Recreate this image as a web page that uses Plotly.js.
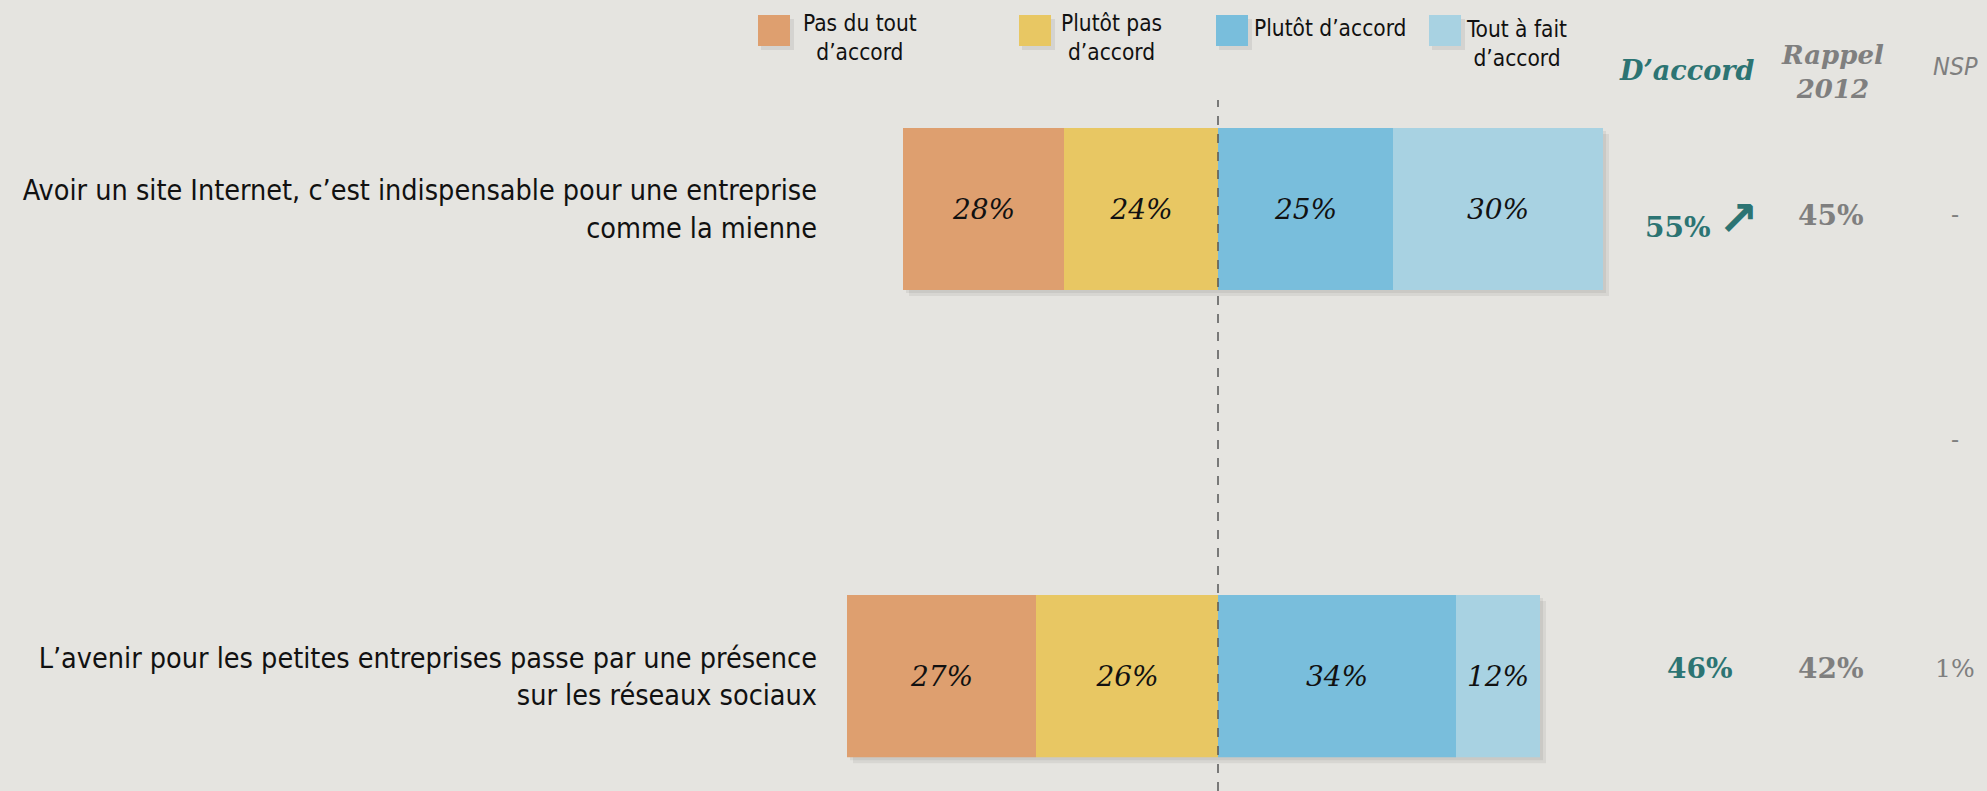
<!DOCTYPE html>
<html>
<head>
<meta charset="utf-8">
<script src="https://cdn.plot.ly/plotly-3.0.1.min.js"></script>
<style>
  html, body { margin: 0; padding: 0; background: #e5e4e0; }
  #myDiv { width: 1987px; height: 791px; }
</style>
</head>
<body>
<div id="myDiv"></div>
<script>
// statements, top one first
var statements = [
  'Avoir un site Internet, c’est indispensable pour une entreprise<br>comme la mienne',
  'L’avenir pour les petites entreprises passe par une présence<br>sur les réseaux sociaux'
];
var seriesNames = ['Pas du tout<br>d’accord', 'Plutôt pas<br>d’accord', 'Plutôt d’accord', 'Tout à fait<br>d’accord'];
var colors = ['#de9f6f', '#e8c763', '#79bedc', '#a8d2e2'];

// bar lengths as drawn in the picture (first row's left side is drawn shorter than its labels)
var pasDuTout = [23, 27];
var plutotPas = [22, 26];
var plutotDaccord = [25, 34];
var toutAFait = [30, 12];
// labels printed in the bars
var pasDuToutLbl = ['28%', '27%'];
var plutotPasLbl = ['24%', '26%'];
var plutotDaccordLbl = ['25%', '34%'];
var toutAFaitLbl = ['30%', '12%'];

// right hand columns
var daccord = ['55%', '46%'];
var rappel2012 = ['45%', '42%'];
var nsp = ['-', '1%'];

var W = 1987, H = 791, L = 820;
var pxPerPt = 7, zeroPx = 1218;
function px2x(px) { return (px - zeroPx) / pxPerPt; }
function px2paper(px) { return (px - L) / (W - L); }
function py2paper(py) { return 1 - py / H; }

var barFont = { family: 'DejaVu Serif', size: 28, color: '#111', style: 'italic' };

function barTrace(vals, lbls, idx, neg) {
  return {
    type: 'bar', orientation: 'h',
    y: statements,
    x: vals.map(function (v) { return neg ? -v : v; }),
    text: lbls,
    textposition: 'inside', insidetextanchor: 'middle', constraintext: 'none',
    textfont: barFont,
    marker: { color: colors[idx], line: { width: 0 } },
    width: 0.347,
    hoverinfo: 'skip',
    showlegend: false
  };
}

var data = [
  barTrace(plutotPas, plutotPasLbl, 1, true),
  barTrace(pasDuTout, pasDuToutLbl, 0, true),
  barTrace(plutotDaccord, plutotDaccordLbl, 2, false),
  barTrace(toutAFait, toutAFaitLbl, 3, false)
];

var shapes = [];
var annotations = [];

// soft shadows behind the bars
statements.forEach(function (s, i) {
  var cat = statements.length - 1 - i;
  var left = -(pasDuTout[i] + plutotPas[i]);
  var right = plutotDaccord[i] + toutAFait[i];
  [6, 3].forEach(function (off) {
    shapes.push({
      type: 'rect', layer: 'below', xref: 'x', yref: 'y',
      x0: left + off / pxPerPt, x1: right + off / pxPerPt,
      y0: cat - 0.1735 - off / 467, y1: cat + 0.1735 - off / 467,
      fillcolor: 'rgba(0,0,0,0.06)', line: { width: 0 }
    });
  });
});

// dashed zero line
shapes.push({
  type: 'line', xref: 'x', yref: 'paper', x0: 0, x1: 0, y0: 0, y1: py2paper(100),
  line: { color: '#555', width: 1.5, dash: 'dash' }
});

// legend drawn by hand
var legendPos = [
  { sq: 758, tx: 860, ty: 38 },
  { sq: 1019, tx: 1111, ty: 38 },
  { sq: 1216, tx: 1330, ty: 28 },
  { sq: 1429, tx: 1516, ty: 44 }
];
seriesNames.forEach(function (n, i) {
  var p = legendPos[i];
  shapes.push({
    type: 'rect', xref: 'paper', yref: 'paper',
    x0: px2paper(p.sq + 3), x1: px2paper(p.sq + 36), y0: py2paper(50), y1: py2paper(19),
    fillcolor: 'rgba(0,0,0,0.07)', line: { width: 0 }
  });
  shapes.push({
    type: 'rect', xref: 'paper', yref: 'paper',
    x0: px2paper(p.sq), x1: px2paper(p.sq + 32), y0: py2paper(46), y1: py2paper(15),
    fillcolor: colors[i], line: { width: 0 }
  });
  annotations.push({
    xref: 'paper', yref: 'paper', x: px2paper(p.tx), y: py2paper(p.ty),
    text: n, showarrow: false, xanchor: 'center', yanchor: 'middle', align: 'center',
    font: { family: 'DejaVu Sans Condensed', size: 22.5, color: '#111' }
  });
});

// column headers
var teal = '#2c7473', grey = '#7f7f7f';
var headFont = { family: 'DejaVu Serif', size: 27, weight: 'bold', style: 'italic' };
function note(x, y, text, font, extra) {
  return Object.assign({
    xref: 'x', yref: 'paper', x: x, y: y, text: text, showarrow: false,
    xanchor: 'center', yanchor: 'middle', align: 'center', font: font
  }, extra || {});
}
annotations.push(note(px2x(1686), py2paper(70), 'D’accord', Object.assign({}, headFont, { color: teal })));
annotations.push(note(px2x(1832), py2paper(72), 'Rappel<br>2012', Object.assign({}, headFont, { color: grey, size: 26 })));
annotations.push(note(px2x(1955), py2paper(67), 'NSP',
  { family: 'DejaVu Sans Condensed', size: 25, color: grey, style: 'italic' }));

// column values
var valFont = { family: 'DejaVu Serif', size: 28, weight: 'bold' };
var dashFont = { family: 'DejaVu Serif', size: 24, color: grey };
statements.forEach(function (s, i) {
  var cat = statements.length - 1 - i;
  annotations.push(note(px2x(i === 0 ? 1678 : 1700), cat, daccord[i],
    Object.assign({}, valFont, { color: teal }), { yref: 'y', yshift: i === 0 ? -18 : 8 }));
  annotations.push(note(px2x(1831), cat, rappel2012[i],
    Object.assign({}, valFont, { color: grey }), { yref: 'y', yshift: i === 0 ? -6 : 8 }));
  annotations.push(note(px2x(1955), cat, nsp[i],
    i === 0 ? dashFont : { family: 'DejaVu Serif', size: 25, color: grey }, { yref: 'y', yshift: i === 0 ? -6 : 8 }));
});
// trend arrow next to the first D'accord value
annotations.push(note(px2x(1738), 1, '↗',
  { family: 'DejaVu Sans', size: 48, weight: 'bold', color: teal }, { yref: 'y', yshift: -9 }));
// stray dash between the rows in the NSP column
annotations.push(note(px2x(1955), py2paper(440), '-', dashFont));

var layout = {
  width: W, height: H,
  margin: { l: L, r: 0, t: 0, b: 0 },
  paper_bgcolor: '#e5e4e0',
  plot_bgcolor: '#e5e4e0',
  barmode: 'relative',
  showlegend: false,
  xaxis: {
    range: [px2x(L), px2x(W)],
    showgrid: false, zeroline: false, showticklabels: false, ticks: '', fixedrange: true
  },
  yaxis: {
    type: 'category',
    categoryorder: 'array', categoryarray: statements.slice().reverse(),
    range: [-0.246, 1.4475],
    showgrid: false, zeroline: false, ticks: '', ticklabelstandoff: 2,
    tickfont: { family: 'DejaVu Sans Condensed', size: 28.5, color: '#111' },
    fixedrange: true
  },
  shapes: shapes,
  annotations: annotations
};

Plotly.newPlot('myDiv', data, layout, { displayModeBar: false, staticPlot: true });
</script>
</body>
</html>
